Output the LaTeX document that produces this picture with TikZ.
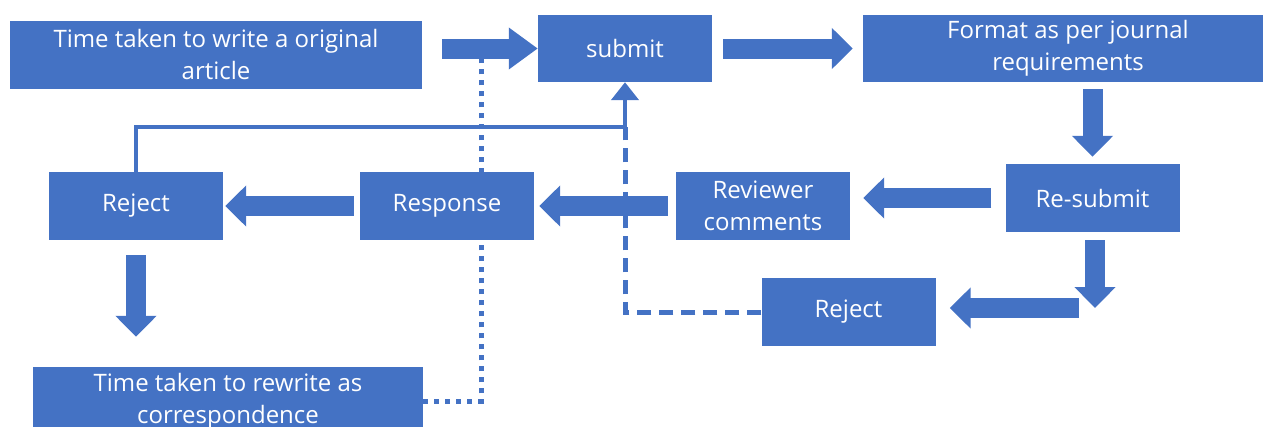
\documentclass[tikz,border=0pt]{standalone}
\usepackage{fontspec}
\setmainfont{Open Sans}
\usepackage{tikz}
\usetikzlibrary{arrows.meta}
\usetikzlibrary{backgrounds}
\definecolor{office}{HTML}{4472C4}
\tikzset{>=stealth}
\tikzset{%
    box/.style={%
        fill=office, text=white, align=center, inner sep=0pt,
        minimum width=174pt, minimum height=68pt,
        font=\fontsize{24}{32}\selectfont
    },
    blk/.style={office, line width=20pt, -{Triangle[length=21pt,width=40pt]}},
    link/.style={office, line width=4.5pt}
}

\begin{document}
\begin{tikzpicture}[x=1pt,y=-1pt]
\useasboundingbox (0,0) rectangle (1263,426);
% boxes
\node[box,minimum width=412pt] (art)    at (216,54.5)   {Time taken to write a original\\article};
\node[box,minimum height=67pt] (submit) at (625,48.5)   {submit};
\node[box,minimum width=410pt,minimum height=67pt] (format) at (1068,48.5) {Format as per journal\\requirements};
\node[box] (resub)  at (1092.5,198) {Re-submit};
\node[box] (rev)    at (763,206)    {Reviewer\\comments};
\node[box] (resp)   at (447,206)    {Response};
\node[box] (rej1)   at (136,206)    {Reject};
\node[box] (rej2)   at (848.5,312)  {Reject};
\node[box,minimum width=390pt,minimum height=69pt] (rewrite) at (228,401.5) {Time taken to rewrite as\\correspondence};
\coordinate (hub)  at (625,127);
\coordinate (join) at (481,58);
\coordinate (turn) at (1095,308);
% block arrows
\draw[blk,shorten <=20pt,-{Triangle[length=29pt,width=40pt]}] (art.east |- submit.west) -- (submit.west);
\draw[blk,shorten <=11pt,shorten >=10pt] (submit.east) -- (format.west);
\draw[blk,shorten <=7pt,shorten >=7pt] (resub.north |- format.south) -- (resub.north);
\draw[blk,shorten <=14pt,shorten >=13pt] (resub.west) -- (resub.west -| rev.east);
\draw[blk,shorten <=8pt,shorten >=5pt] (rev.west) -- (resp.east);
\draw[blk,shorten <=6pt,shorten >=2pt] (resp.west) -- (rej1.east);
\draw[blk,shorten <=15pt,shorten >=30pt] (rej1.south) -- (rej1.south |- rewrite.north);
\draw[blk,shorten <=8pt] (resub.south -| turn) -- (turn);
\draw[blk,shorten <=16pt,shorten >=14pt] (turn) -- (turn -| rej2.east);
% lines behind the boxes
\begin{scope}[on background layer]
\draw[link,-{Triangle[length=18pt,width=27pt]}] (rej1.north) |- (hub) -- (submit.south);
\draw[link,line width=5pt,dash pattern=on 14pt off 8pt] (rej2.west) -| (hub);
\draw[link,line width=5pt,dash pattern=on 5pt off 6pt] (rewrite.east) -| (join);
\end{scope}
\end{tikzpicture}
\end{document}
